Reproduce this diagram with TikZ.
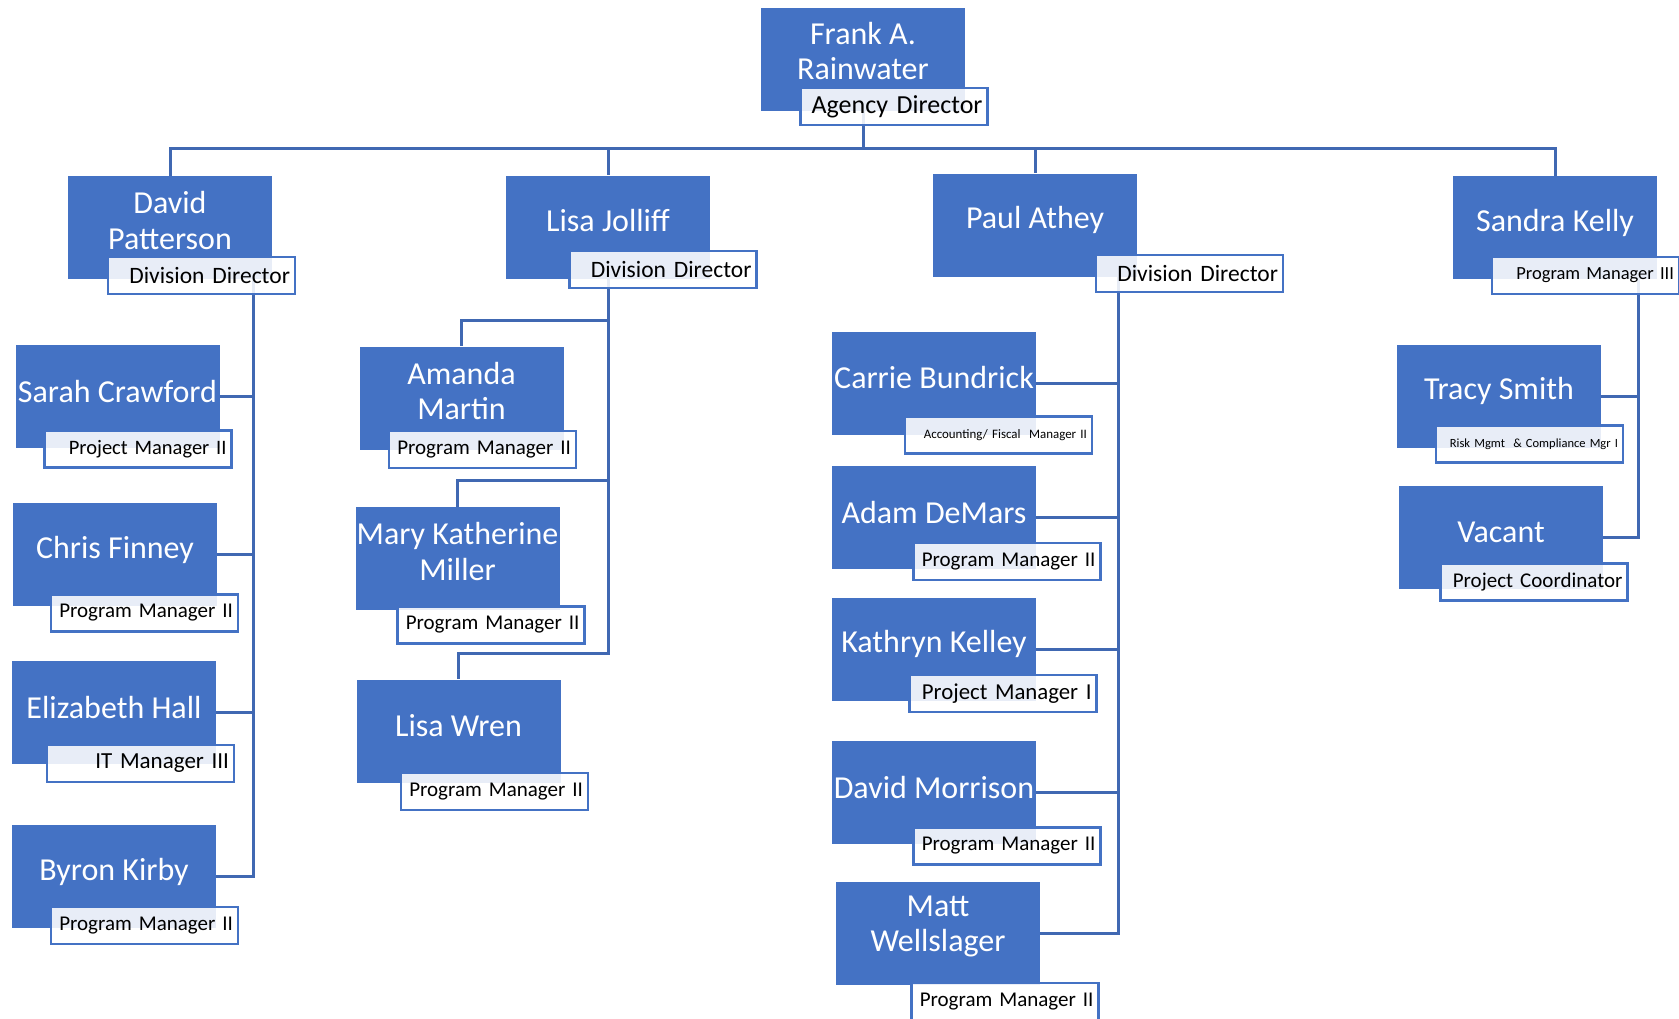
\documentclass[tikz,border=0pt]{standalone}
\usepackage{fontspec}
\setmainfont{Carlito}
\usetikzlibrary{backgrounds}
\definecolor{orgblue}{HTML}{4472C4}
\definecolor{linkblue}{HTML}{4068B2}

\begin{document}
\begin{tikzpicture}[x=1pt,y=-1pt,
  person/.style={rectangle,fill=orgblue,minimum width=204pt,minimum height=103pt,inner sep=0pt},
  who/.style={text=white,align=center,inner sep=0pt,font=\fontsize{32}{35.5}\selectfont},
  role/.style={rectangle,draw=orgblue,line width=2.5pt,fill=white,fill opacity=0.88,text opacity=1,
    text width=177pt,align=right,minimum height=37pt,inner xsep=5pt,inner ysep=0pt,
    font=\fontsize{21}{24}\selectfont},
  link/.style={draw=linkblue,line width=3pt}]
\useasboundingbox (0,0) rectangle (1679,1018);

% top
\node[person] (fr) at (863,59) {};
\node[who] (fr-name) at ([yshift=8pt]fr.center) {Frank A.\\Rainwater};
\node[role,font=\fontsize{26}{30}\selectfont] (fr-role) at (894,106.5) {Agency Director};

% second row
\node[person] (dp) at (170,227.5) {};
\node[who] (dp-name) at ([yshift=7pt]dp.center) {David\\Patterson};
\node[role,font=\fontsize{23.5}{28}\selectfont] (dp-role) at (201.5,275.5) {Division Director};

\node[person] (lj) at (608,227) {};
\node[who] (lj-name) at ([yshift=6pt]lj.center) {Lisa Jolliff};
\node[role,font=\fontsize{23.5}{28}\selectfont] (lj-role) at (663,269.5) {Division Director};

\node[person] (pa) at (1035,225) {};
\node[who] (pa-name) at ([yshift=5pt]pa.center) {Paul Athey};
\node[role,font=\fontsize{23.5}{28}\selectfont] (pa-role) at (1189.5,273.5) {Division Director};

\node[person] (sk) at (1555,227.5) {};
\node[who] (sk-name) at ([yshift=5pt]sk.center) {Sandra Kelly};
\node[role,font=\fontsize{18.5}{22}\selectfont] (sk-role) at (1585.5,275.5) {Program Manager III};

% under David Patterson
\node[person] (sc) at (117.5,396) {};
\node[who] (sc-name) at ([yshift=5pt]sc.center) {Sarah Crawford};
\node[role,font=\fontsize{20.5}{24}\selectfont] (sc-role) at (138,449) {Project Manager II};

\node[person] (cf) at (115,554.5) {};
\node[who] (cf-name) at ([yshift=5pt]cf.center) {Chris Finney};
\node[role] (cf-role) at (144.5,613) {Program Manager II};

\node[person] (eh) at (114,712) {};
\node[who] (eh-name) at ([yshift=5pt]eh.center) {Elizabeth Hall};
\node[role,font=\fontsize{23}{27}\selectfont] (eh-role) at (140.5,763.5) {IT Manager III};

\node[person] (bk) at (114,876.5) {};
\node[who] (bk-name) at ([yshift=5pt]bk.center) {Byron Kirby};
\node[role] (bk-role) at (144.5,925.5) {Program Manager II};

% under Lisa Jolliff
\node[person] (am) at (461.5,398) {};
\node[who] (am-name) at ([yshift=7pt]am.center) {Amanda\\Martin};
\node[role] (am-role) at (482.5,449.5) {Program Manager II};

\node[person] (mk) at (457.5,558.5) {};
\node[who] (mk-name) at ([yshift=7pt]mk.center) {Mary Katherine\\Miller};
\node[role] (mk-role) at (491,625) {Program Manager II};

\node[person] (lw) at (458.5,731) {};
\node[who] (lw-name) at ([yshift=5pt]lw.center) {Lisa Wren};
\node[role] (lw-role) at (494.5,791.5) {Program Manager II};

% under Paul Athey
\node[person] (cb) at (934,383) {};
\node[who] (cb-name) at ([yshift=5pt]cb.center) {Carrie Bundrick};
\node[role,font=\fontsize{12.9}{15}\selectfont] (cb-role) at (998.5,435) {Accounting/ Fiscal\ \ Manager II};

\node[person] (ad) at (934,517) {};
\node[who] (ad-name) at ([yshift=5pt]ad.center) {Adam DeMars};
\node[role] (ad-role) at (1007,561.5) {Program Manager II};

\node[person] (kk) at (934,649) {};
\node[who] (kk-name) at ([yshift=5pt]kk.center) {Kathryn Kelley};
\node[role,font=\fontsize{22.8}{27}\selectfont] (kk-role) at (1003,693.5) {Project Manager I};

\node[person] (dm) at (934,792) {};
\node[who] (dm-name) at ([yshift=5pt]dm.center) {David Morrison};
\node[role] (dm-role) at (1007,846) {Program Manager II};

\node[person] (mw) at (938,933.5) {};
\node[who] (mw-name) at ([yshift=7pt]mw.center) {Matt\\Wellslager};
\node[role] (mw-role) at (1005,1001.5) {Program Manager II};

% under Sandra Kelly
\node[person] (ts) at (1499,396) {};
\node[who] (ts-name) at ([yshift=5pt]ts.center) {Tracy Smith};
\node[role,font=\fontsize{12.5}{15}\selectfont] (ts-role) at (1529.5,444) {Risk Mgmt\ \ \& Compliance Mgr I};

\node[person] (va) at (1501,537) {};
\node[who] (va-name) at ([yshift=5pt]va.center) {Vacant};
\node[role] (va-role) at (1534,582) {Project Coordinator};

% connectors
\begin{scope}[on background layer]
\coordinate (bus) at (863,148);
\draw[link] (fr.south) -- (bus);
\draw[link] (bus) -| (dp.north);
\draw[link] (bus) -| (lj.north);
\draw[link] (bus) -| (pa.north);
\draw[link] (bus) -| (sk.north);

\draw[link] ([xshift=83pt]dp.south) |- (sc.east);
\draw[link] ([xshift=83pt]dp.south) |- (cf.east);
\draw[link] ([xshift=83pt]dp.south) |- (eh.east);
\draw[link] ([xshift=83pt]dp.south) |- (bk.east);

\draw[link] (lj.south) |- ([yshift=26pt]am.north) -- (am.north);
\draw[link] (lj.south) |- ([yshift=26pt]mk.north) -- (mk.north);
\draw[link] (lj.south) |- ([yshift=26pt]lw.north) -- (lw.north);

\draw[link] ([xshift=83pt]pa.south) |- (cb.east);
\draw[link] ([xshift=83pt]pa.south) |- (ad.east);
\draw[link] ([xshift=83pt]pa.south) |- (kk.east);
\draw[link] ([xshift=83pt]pa.south) |- (dm.east);
\draw[link] ([xshift=83pt]pa.south) |- (mw.east);

\draw[link] ([xshift=83pt]sk.south) |- (ts.east);
\draw[link] ([xshift=83pt]sk.south) |- (va.east);
\end{scope}
\end{tikzpicture}
\end{document}
